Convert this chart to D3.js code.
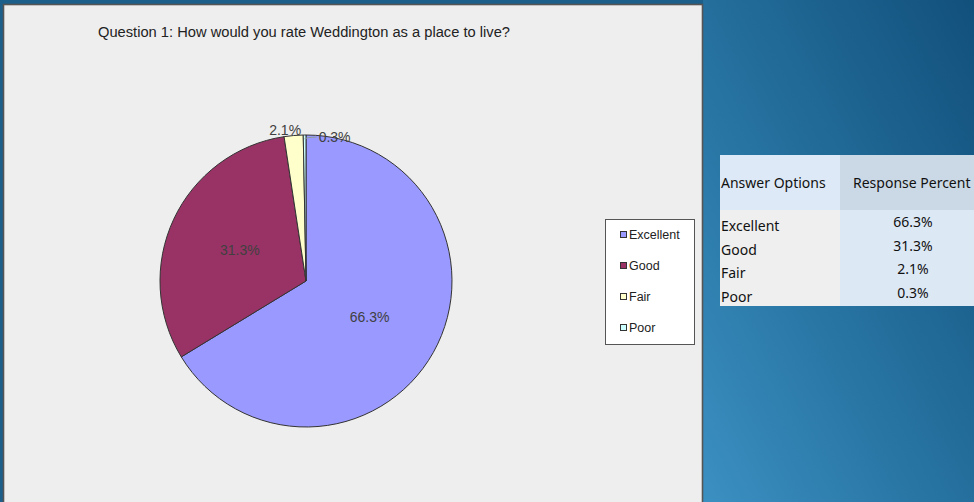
<!DOCTYPE html>
<html>
<head>
<meta charset="utf-8">
<script src="https://cdn.jsdelivr.net/npm/d3@7"></script>
<style>
  html, body { margin: 0; padding: 0; background: #1b5e8a; }
  svg { display: block; }
</style>
</head>
<body>
<svg id="chart" width="974" height="502"></svg>
<script>
// Survey answers and their share of responses
const categories = ["Excellent", "Good", "Fair", "Poor"];
const percents = [66.3, 31.3, 2.1, 0.3];
const sliceColors = ["#9999ff", "#993366", "#ffffcc", "#ccffff"];
const titleText = "Question 1: How would you rate Weddington as a place to live?";
const tableHeaders = ["Answer Options", "Response Percent"];

const W = 974, H = 502;
const svg = d3.select("#chart");

// ---- slide background ----
const defs = svg.append("defs");
const bg = defs.append("linearGradient").attr("id", "bgGrad")
  .attr("x1", "0").attr("y1", "1").attr("x2", "1").attr("y2", "0");
bg.append("stop").attr("offset", "0%").attr("stop-color", "#3b90c2");
bg.append("stop").attr("offset", "45%").attr("stop-color", "#2672a0");
bg.append("stop").attr("offset", "100%").attr("stop-color", "#12507c");
svg.append("rect").attr("width", W).attr("height", H).attr("fill", "#1c5f8b");
svg.append("rect").attr("x", 703).attr("width", W - 703).attr("height", H).attr("fill", "url(#bgGrad)");

// ---- chart panel ----
svg.append("rect")
  .attr("x", 3.5).attr("y", 4.5).attr("width", 699).attr("height", 510)
  .attr("fill", "#eeeeee").attr("stroke", "#555555").attr("stroke-width", 1.6);

svg.append("text")
  .attr("x", 98).attr("y", 37)
  .attr("font-family", "Liberation Sans, Arial, sans-serif")
  .attr("font-size", 14).attr("fill", "#222")
  .attr("textLength", 412).attr("lengthAdjust", "spacingAndGlyphs")
  .text(titleText);

// ---- pie ----
const cx = 306, cy = 281, R = 146;
const data = categories.map((c, i) => ({ name: c, value: percents[i], color: sliceColors[i] }));
const pie = d3.pie().sort(null).value(d => d.value).startAngle(0).endAngle(2 * Math.PI);
const arcs = pie(data);
const arc = d3.arc().innerRadius(0).outerRadius(R);
const labelArc = d3.arc().innerRadius(R * 0.5).outerRadius(R * 0.5);
const outerArc = d3.arc().innerRadius(R + 6).outerRadius(R + 6);

const g = svg.append("g").attr("transform", `translate(${cx},${cy})`);
g.selectAll("path.slice").data(arcs).join("path")
  .attr("class", "slice")
  .attr("d", arc)
  .attr("fill", d => d.data.color)
  .attr("stroke", "#333333").attr("stroke-width", 1)
  .attr("stroke-linejoin", "round");

const fmt = v => v.toFixed(1) + "%";
const labelFont = "Liberation Sans, Arial, sans-serif";
arcs.forEach((d, i) => {
  const big = d.endAngle - d.startAngle > 0.3;
  if (big) {
    const [x, y] = labelArc.centroid(d);
    g.append("text").attr("x", x).attr("y", y).attr("dy", "0.35em")
      .attr("text-anchor", "middle")
      .attr("font-family", labelFont).attr("font-size", 14).attr("fill", "#404040")
      .text(fmt(d.data.value));
  } else if (i === 2) {
    const [x, y] = outerArc.centroid(d);
    g.append("text").attr("x", x - 8).attr("y", y + 1).attr("dy", "0.35em")
      .attr("text-anchor", "middle")
      .attr("font-family", labelFont).attr("font-size", 14).attr("fill", "#404040")
      .text(fmt(d.data.value));
  } else {
    // tiny slice: leader line out to the right of the top
    const [x0, y0] = d3.arc().innerRadius(R - 4).outerRadius(R - 4).centroid(d);
    const lx = x0 + 12, ly = y0 - 2;
    g.append("path")
      .attr("d", `M${x0},${y0} Q${x0 + 3},${ly} ${lx},${ly}`)
      .attr("fill", "none").attr("stroke", "#8c9c9c").attr("stroke-width", 1.2);
    g.append("text").attr("x", lx + 2).attr("y", ly).attr("dy", "0.35em")
      .attr("text-anchor", "start")
      .attr("font-family", labelFont).attr("font-size", 14).attr("fill", "#404040")
      .text(fmt(d.data.value));
  }
});

// ---- legend ----
const legend = svg.append("g");
legend.append("rect")
  .attr("x", 605.5).attr("y", 219.5).attr("width", 89).attr("height", 125)
  .attr("fill", "#ffffff").attr("stroke", "#555555").attr("stroke-width", 1);
const ly = d3.scalePoint().domain(categories).range([235, 328]);
categories.forEach((c, i) => {
  legend.append("rect")
    .attr("x", 620.5).attr("y", ly(c) - 3.5).attr("width", 6).attr("height", 6)
    .attr("fill", sliceColors[i]).attr("stroke", "#333").attr("stroke-width", 1);
  legend.append("text")
    .attr("x", 629).attr("y", ly(c)).attr("dy", "0.35em")
    .attr("font-family", labelFont).attr("font-size", 12.5).attr("fill", "#222")
    .text(c);
});

// ---- response table ----
const tx = 720, tSplit = 840, tRight = 995, tTop = 155, tHeadBottom = 210, tBottom = 306;
const table = svg.append("g");
table.append("rect").attr("x", tx).attr("y", tTop).attr("width", tSplit - tx).attr("height", tHeadBottom - tTop).attr("fill", "#dde9f6");
table.append("rect").attr("x", tSplit).attr("y", tTop).attr("width", tRight - tSplit).attr("height", tHeadBottom - tTop).attr("fill", "#cbd9e7");
table.append("rect").attr("x", tx).attr("y", tHeadBottom).attr("width", tSplit - tx).attr("height", tBottom - tHeadBottom).attr("fill", "#efefef");
table.append("rect").attr("x", tSplit).attr("y", tHeadBottom).attr("width", tRight - tSplit).attr("height", tBottom - tHeadBottom).attr("fill", "#dde8f5");

const tFont = "Noto Sans, Open Sans, sans-serif";
table.append("text").attr("x", tx + 1).attr("y", 183).attr("dy", "0.35em")
  .attr("font-family", tFont).attr("font-size", 14).attr("fill", "#111")
  .text(tableHeaders[0]);
table.append("text").attr("x", 853).attr("y", 183).attr("dy", "0.35em")
  .attr("font-family", tFont).attr("font-size", 14).attr("fill", "#111")
  .text(tableHeaders[1]);

const rowY = d3.scalePoint().domain(categories).range([226, 297]);
categories.forEach((c, i) => {
  table.append("text").attr("x", tx + 1).attr("y", rowY(c)).attr("dy", "0.35em")
    .attr("font-family", tFont).attr("font-size", 14).attr("fill", "#111")
    .text(c);
  table.append("text").attr("x", 913).attr("y", rowY(c) - 4).attr("dy", "0.35em")
    .attr("text-anchor", "middle")
    .attr("font-family", tFont).attr("font-size", 14).attr("fill", "#111")
    .text(fmt(percents[i]));
});
</script>
</body>
</html>
